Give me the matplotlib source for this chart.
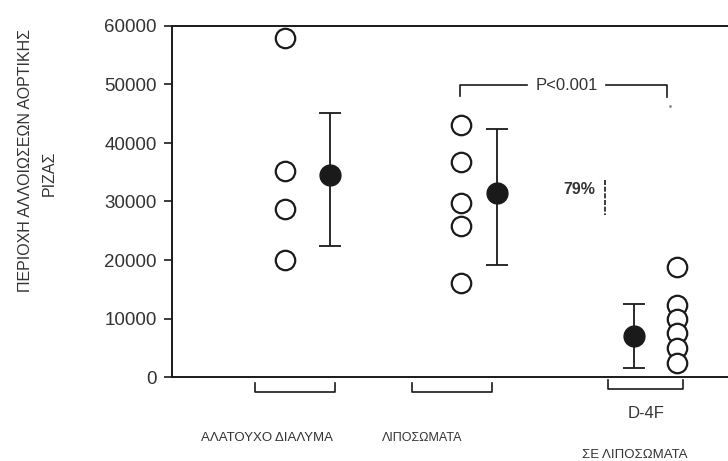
import matplotlib.pyplot as plt

# values (aortic root lesion area)
saline_pts = [58000, 35200, 28700, 20000]
lipo_pts = [43100, 36800, 29700, 25800, 16100]
d4f_pts = [18800, 12300, 9900, 7500, 5000, 2400]

means = [34500, 31500, 7000]
err_lo = [12100, 12400, 5500]
err_hi = [10600, 10900, 5500]

yticks = [0, 10000, 20000, 30000, 40000, 50000, 60000]
ylabel1 = "ΠΕΡΙΟΧΗ ΑΛΛΟΙΩΣΕΩΝ ΑΟΡΤΙΚΗΣ"
ylabel2 = "ΡΙΖΑΣ"
group_labels = ["ΑΛΑΤΟΥΧΟ ΔΙΑΛΥΜΑ", "ΛΙΠΟΣΩΜΑΤΑ", "ΣΕ ΛΙΠΟΣΩΜΑΤΑ"]

plt.rcParams['font.family'] = ['Liberation Sans', 'DejaVu Sans']
ink = '#1a1a1a'
txt = '#333333'

W, H = 728, 461
fig = plt.figure(figsize=(W / 100, H / 100), dpi=100)
ax = fig.add_axes([172 / W, 1 - 377 / H, 1 - 172 / W, 351 / H])

# x positions of the columns (open dots, mean)
open_x = [2.03, 5.2, 9.08]
mean_x = [2.84, 5.85, 8.31]

for x, pts in zip(open_x, [saline_pts, lipo_pts, d4f_pts]):
    ax.plot([x] * len(pts), pts, 'o', ms=14, mfc='white', mec=ink,
            mew=1.6, ls='none', clip_on=False, zorder=3)

ax.errorbar(mean_x, means, yerr=[err_lo, err_hi], fmt='o', ms=15,
            color=ink, ecolor=ink, elinewidth=1.3, capsize=8,
            capthick=1.3, zorder=4)

ax.set_xlim(0, 10)
ax.set_ylim(0, 60000)
ax.set_xticks([])
ax.set_yticks(yticks)
ax.set_yticklabels([str(v) for v in yticks], fontsize=13.5, color=txt)
ax.tick_params(axis='y', length=6, width=1.2, pad=5, color=ink)
ax.spines['right'].set_visible(False)
for s in ['left', 'top', 'bottom']:
    ax.spines[s].set_linewidth(1.4)
    ax.spines[s].set_color(ink)

# group brackets under the axis
for x0, x1, y0, y1 in [(1.5, 2.93, -1000, -2600),
                       (4.32, 5.76, -1000, -2600),
                       (7.84, 9.19, -500, -2000)]:
    ax.plot([x0, x0, x1, x1], [y0, y1, y1, y0], color=ink, lw=1.2,
            clip_on=False)

# P<0.001 bracket
ax.plot([5.18, 5.18, 6.38], [48000, 49900, 49900], color=ink, lw=1.2)
ax.plot([7.8, 8.9, 8.9], [49900, 49900, 47900], color=ink, lw=1.2)
ax.plot([8.95], [46300], '.', ms=2, color='#888888')
ax.text(7.1, 49900, "P<0.001", ha='center', va='center', fontsize=12,
        color=txt)

# 79% reduction mark
ax.plot([7.79, 7.79], [33700, 27700], color=ink, lw=1.2, ls=(0, (3, 1)))
ax.text(7.33, 32000, "79%", ha='center', va='center', fontsize=11.5,
        fontweight='bold', color=txt)

ax.text(8.52, -6300, "D-4F", ha='center', va='center', fontsize=12,
        color=txt, clip_on=False)

fig.text(26 / W, 1 - 160 / H, ylabel1, rotation=90, ha='center',
         va='center', fontsize=11.5, color=txt)
fig.text(49 / W, 1 - 173 / H, ylabel2, rotation=90, ha='center',
         va='center', fontsize=11.5, color=txt)

fig.text(267 / W, 1 - 438 / H, group_labels[0], ha='center', va='center',
         fontsize=9.5, color=txt)
fig.text(422 / W, 1 - 438 / H, group_labels[1], ha='center', va='center',
         fontsize=9, color=txt)
fig.text(635 / W, 1 - 455 / H, group_labels[2], ha='center', va='center',
         fontsize=9.5, color=txt)

fig.savefig('out.png', dpi=100)
